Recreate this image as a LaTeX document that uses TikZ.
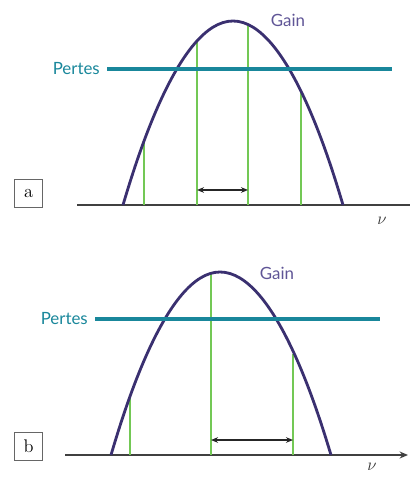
\documentclass[tikz,border=0pt]{standalone}
\usepackage{fontspec}
\newfontfamily\labelfont{Lato}
\usetikzlibrary{arrows.meta}
\definecolor{gaincol}{RGB}{58,48,112}
\definecolor{gaintext}{RGB}{95,85,150}
\definecolor{pertescol}{RGB}{25,135,155}
\definecolor{modecol}{RGB}{115,200,85}
\tikzset{
    gaincurve/.style={gaincol, line width=2pt},
    pertesline/.style={pertescol, line width=2.6pt},
    modeline/.style={modecol, line width=1.9pt},
    axisline/.style={black!75, line width=1.3pt},
    spacing/.style={black!85, line width=0.9pt, {Stealth[length=5pt,width=4pt]}-{Stealth[length=5pt,width=4pt]}},
    gainlabel/.style={gaintext, font=\labelfont\fontsize{12}{12}\selectfont, inner sep=0pt},
    perteslabel/.style={pertescol, font=\labelfont\fontsize{12}{12}\selectfont, inner sep=0pt},
    nulabel/.style={black!80, font=\fontsize{12}{12}\selectfont, inner sep=0pt},
    tagbox/.style={draw=black!60, line width=0.6pt, minimum size=20pt, inner sep=0pt, font=\fontsize{13}{13}\selectfont}
}
\begin{document}
\begin{tikzpicture}[x=0.025cm, y=-0.025cm]
        \useasboundingbox (0,0) rectangle (410,477);

        % --- 1. Case a: three modes above the losses ---
        \node[tagbox] (taga) at (28.5,193.5) {a};
        \coordinate (axa0) at (77,205);
        \coordinate (axa1) at (410,205);
        \draw[axisline] (axa0) -- (axa1);
        \node[nulabel] (nua) at (382,221) {$\nu$};

        % Modes (spacing c/2L)
        \foreach \x in {144,197,248,301} {
            \draw[modeline] (\x,205) -- (\x,{205-184*(1-((\x-233)/110)^2)});
        }
        \coordinate (moda1) at (197,190);
        \coordinate (moda2) at (248,190);
        \draw[spacing] (moda1) -- (moda2);

        % Gain curve
        \draw[gaincurve] (123,205) parabola bend (233,21) (343,205);
        \node[gainlabel] (gaina) at (288,20) {Gain};

        % Losses
        \node[perteslabel, anchor=east] (pertesa) at (100,69) {Pertes};
        \coordinate (pertesa1) at (392,69);
        \draw[pertesline] ([xshift=5pt]pertesa.east) -- (pertesa1);

        % --- 2. Case b: wider spacing, one mode above the losses ---
        \node[tagbox] (tagb) at (28.5,446) {b};
        \coordinate (axb0) at (65,455);
        \coordinate (axb1) at (408,455);
        \draw[axisline, -{Stealth[length=6pt,width=5pt]}] (axb0) -- (axb1);
        \node[nulabel] (nub) at (372,467) {$\nu$};

        % Modes
        \foreach \x in {130,211,293} {
            \draw[modeline] (\x,455) -- (\x,{455-183*(1-((\x-220)/109)^2)});
        }
        \coordinate (modb1) at (211,440);
        \coordinate (modb2) at (293,440);
        \draw[spacing] (modb1) -- (modb2);

        % Gain curve
        \draw[gaincurve] (111,455) parabola bend (220,272) (331,455);
        \node[gainlabel] (gainb) at (277,273) {Gain};

        % Losses
        \node[perteslabel, anchor=east] (pertesb) at (88,319) {Pertes};
        \coordinate (pertesb1) at (380,319);
        \draw[pertesline] ([xshift=5pt]pertesb.east) -- (pertesb1);

    \end{tikzpicture}
\end{document}
